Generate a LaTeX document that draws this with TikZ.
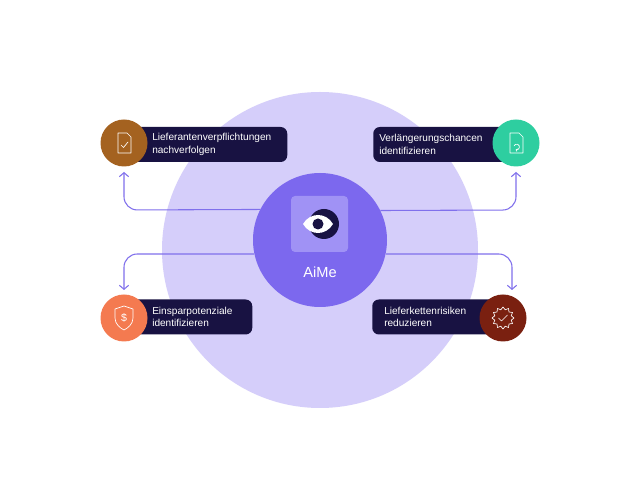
\documentclass[tikz,border=0pt]{standalone}
\usepackage{fontspec}
\setmainfont{Liberation Sans}
\usetikzlibrary{positioning,arrows.meta}
\definecolor{bigbg}{RGB}{213,206,250}
\definecolor{hub}{RGB}{124,104,238}
\definecolor{iconbg}{RGB}{160,146,245}
\definecolor{navy}{RGB}{24,18,66}
\definecolor{flow}{RGB}{128,112,236}
\definecolor{cbrown}{RGB}{164,98,32}
\definecolor{cgreen}{RGB}{46,206,160}
\definecolor{corange}{RGB}{244,122,80}
\definecolor{cred}{RGB}{122,32,16}
\newlength{\px}
\setlength{\px}{0.0264583cm}
\tikzset{
  label box/.style={fill=navy,rounded corners=5pt,anchor=west,inner sep=0pt,minimum height=35\px},
  label text/.style={anchor=west,text=white,font=\fontsize{7.6}{9.4}\selectfont,align=left,inner sep=0pt},
  badge/.style={circle,minimum size=47\px,inner sep=0pt},
  flow line/.style={draw=flow,line width=0.8pt,rounded corners=10pt,-{Straight Barb[length=3pt,width=7pt]}},
  glyph/.style={draw=white,line width=0.5pt,line join=round,line cap=round}
}
\begin{document}
\begin{tikzpicture}[x=\px,y=-\px]
\useasboundingbox (0,0) rectangle (640,478);
\fill[white] (0,0) rectangle (640,478);
\fill[bigbg] (320,250) circle (158);
\node[circle,fill=hub,minimum size=134\px,inner sep=0pt] (hub) at (320,240) {};
\fill[iconbg,rounded corners=3pt] (291,196) rectangle (348,252);
% eye icon
\fill[navy] (324,224) circle (15);
\fill[white] (303,224) .. controls (310,212) and (326,212) .. (333,224) .. controls (326,236) and (310,236) .. (303,224) -- cycle;
\fill[navy] (318,224) circle (5.5);
\node[text=white,font=\fontsize{11}{13}\selectfont] (aime) at (320,272) {AiMe};
% label boxes
\node[label box,minimum width=157\px] (tlbox) at (130,144.5) {};
\node[label text] (tltext) at (152,144.5) {Lieferantenverpflichtungen\\nachverfolgen};
\node[label box,minimum width=137\px] (trbox) at (373,144.5) {};
\node[label text] (trtext) at (379,144.5) {Verlängerungschancen\\identifizieren};
\node[label box,minimum width=122\px] (blbox) at (130,317) {};
\node[label text] (bltext) at (152,317) {Einsparpotenziale\\identifizieren};
\node[label box,minimum width=128\px] (brbox) at (372,317) {};
\node[label text] (brtext) at (384,317) {Lieferkettenrisiken\\reduzieren};
% badges
\node[badge,fill=cbrown] (tl) at (124,143) {};
\node[badge,fill=cgreen] (tr) at (516,143) {};
\node[badge,fill=corange] (bl) at (124,318) {};
\node[badge,fill=cred] (br) at (503,318) {};
% glyphs
\draw[glyph] (118,133) -- (127,133) -- (131,137) -- (131,153) -- (118,153) -- cycle;
\draw[glyph] (121,145) -- (123.5,147.5) -- (128,142);
\draw[glyph] (510,133) -- (519,133) -- (523,137) -- (523,153) -- (510,153) -- cycle;
\draw[glyph,->,>={Straight Barb[length=1pt,width=2pt]}] (514,146) arc (200:470:2.8);
\draw[glyph] (115,309) -- (124,306) -- (133,309) -- (133,318) .. controls (133,324) and (128,328) .. (124,330) .. controls (120,328) and (115,324) .. (115,318) -- cycle;
\node[text=white,font=\fontsize{8}{8}\selectfont] (dollar) at (124,318) {\$};
\draw[glyph] (503,318) +(0:11) \foreach \a in {30,60,...,360} { -- +(\a-15:8.5) -- +(\a:11) };
\draw[glyph] (498.5,318) -- (501.5,321) -- (507.5,315);
% connectors
\coordinate (tlend) at (124,172);
\coordinate (trend) at (516,172);
\coordinate (blend) at (124,290);
\coordinate (brend) at (512,290);
\draw[flow line] (hub.153.4) -- (124,210) -- (tlend);
\draw[flow line] (hub.26.6) -- (516,210) -- (trend);
\draw[flow line] (hub.192) -- (124,254) -- (blend);
\draw[flow line] (hub.-12) -- (512,254) -- (brend);
\end{tikzpicture}
\end{document}
